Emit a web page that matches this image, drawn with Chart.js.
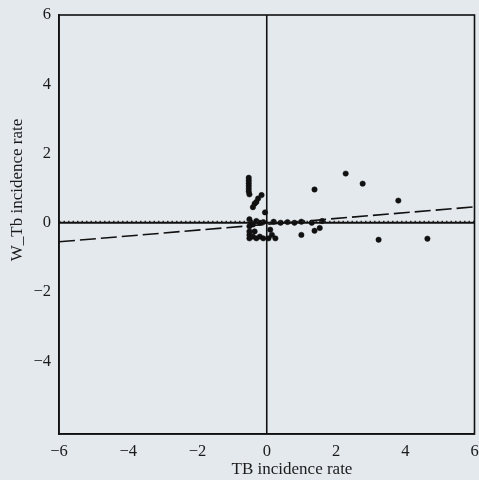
<!DOCTYPE html>
<html>
<head>
<meta charset="utf-8">
<script src="https://cdn.jsdelivr.net/npm/chart.js@4"></script>
<style>
  html, body { margin: 0; padding: 0; background: #e4e9ed; }
  #wrap { width: 479px; height: 480px; position: relative; }
</style>
</head>
<body>
<div id="wrap"><canvas id="moranChart"></canvas></div>
<script>
// TB incidence rate (standardised) vs spatially lagged value
const tbRate = [
  -0.52, -0.52, -0.52, -0.52, -0.52, -0.52, -0.5,
  -0.4, -0.35, -0.3, -0.25, -0.15, -0.05,
  -0.5, -0.45, -0.5, -0.4, -0.3, -0.2, -0.1,
  -0.5, -0.5, -0.5, -0.4, -0.3, -0.2, -0.1, 0.05, 0.15, 0.25, -0.35, 0.1,
  0.2, 0.4, 0.6, 0.8, 1.0, 1.3, 1.6,
  1.38, 2.28, 2.77, 3.8, 1.0, 1.38, 1.53, 3.23, 4.64
];
const wTbRate = [
  1.3, 1.22, 1.14, 1.06, 0.98, 0.9, 0.82,
  0.45, 0.55, 0.6, 0.7, 0.8, 0.3,
  0.1, 0.0, -0.1, -0.05, 0.05, 0.0, 0.02,
  -0.25, -0.35, -0.45, -0.4, -0.45, -0.4, -0.45, -0.45, -0.35, -0.45, -0.25, -0.2,
  0.03, 0.0, 0.02, 0.0, 0.03, 0.0, 0.05,
  0.96, 1.42, 1.13, 0.64, -0.35, -0.23, -0.15, -0.49, -0.46
];

// fitted line ends (Moran's I slope)
const fitX = [-6, 6];
const fitY = [-0.55, 0.46];

const xTicks = [-6, -4, -2, 0, 2, 4, 6];
const yTicks = [-4, -2, 0, 2, 4, 6];
const xMin = -6, xMax = 6, yMin = -6.1, yMax = 6;

const xTitle = "TB incidence rate";
const yTitle = "W_Tb incidence rate";

const pontos = tbRate.map((v, i) => ({ x: v, y: wTbRate[i] }));

const serif = "'Liberation Serif', 'DejaVu Serif', serif";
const fmt = v => String(v).replace("-", "\u2212");

const moldura = {
  id: "moldura",
  afterDraw(chart) {
    const ctx = chart.ctx;
    const a = chart.chartArea;
    ctx.save();
    ctx.strokeStyle = "#111";
    ctx.lineWidth = 1.6;
    ctx.strokeRect(a.left, a.top, a.right - a.left, a.bottom - a.top);
    ctx.fillStyle = "#1a1a1a";
    ctx.font = "17px " + serif;
    ctx.textAlign = "center";
    ctx.textBaseline = "middle";
    ctx.fillText(xTitle, 292, 470);
    ctx.translate(18, 190);
    ctx.rotate(-Math.PI / 2);
    ctx.fillText(yTitle, 0, 0);
    ctx.restore();
  }
};

new Chart(document.getElementById("moranChart"), {
  type: "scatter",
  data: {
    datasets: [
      {
        data: [{ x: 0, y: yMin }, { x: 0, y: yMax }],
        showLine: true, pointRadius: 0, borderColor: "#111", borderWidth: 1.6
      },
      {
        data: [{ x: xMin, y: 0 }, { x: xMax, y: 0 }],
        showLine: true, pointRadius: 0, borderColor: "#111", borderWidth: 2
      },
      {
        data: [{ x: xMin, y: 0.04 }, { x: xMax, y: 0.04 }],
        showLine: true, pointRadius: 0, borderColor: "#333", borderWidth: 1.5,
        borderDash: [1.5, 3]
      },
      {
        data: fitX.map((v, i) => ({ x: v, y: fitY[i] })),
        showLine: true, pointRadius: 0, borderColor: "#111", borderWidth: 1.6,
        borderDash: [16, 5]
      },
      {
        data: pontos,
        pointRadius: 2.7, pointBackgroundColor: "#111", pointBorderColor: "#111",
        pointBorderWidth: 0.5
      }
    ]
  },
  options: {
    responsive: true,
    maintainAspectRatio: false,
    animation: false,
    layout: { padding: { top: 15, right: 1, left: 0, bottom: 0 } },
    plugins: { legend: { display: false }, tooltip: { enabled: false } },
    scales: {
      x: {
        type: "linear", min: xMin, max: xMax,
        afterBuildTicks: s => { s.ticks = xTicks.map(v => ({ value: v })); },
        afterFit: s => { s.height = 46; s.paddingLeft = 0; s.paddingRight = 0; },
        grid: { display: false, drawOnChartArea: false, drawTicks: true, tickLength: 4, color: "#111" },
        border: { display: true, color: "#111", width: 1.6 },
        ticks: { color: "#1a1a1a", font: { family: serif, size: 16.5 }, padding: 4, callback: fmt, maxRotation: 0 }
      },
      y: {
        type: "linear", min: yMin, max: yMax,
        afterBuildTicks: s => { s.ticks = yTicks.map(v => ({ value: v })); },
        afterFit: s => { s.width = 59; s.paddingTop = 0; s.paddingBottom = 0; },
        grid: { display: false, drawOnChartArea: false, drawTicks: true, tickLength: 4, color: "#111" },
        border: { display: true, color: "#111", width: 1.6 },
        ticks: { color: "#1a1a1a", font: { family: serif, size: 16.5 }, padding: 4, callback: fmt }
      }
    }
  },
  plugins: [moldura]
});
</script>
</body>
</html>
